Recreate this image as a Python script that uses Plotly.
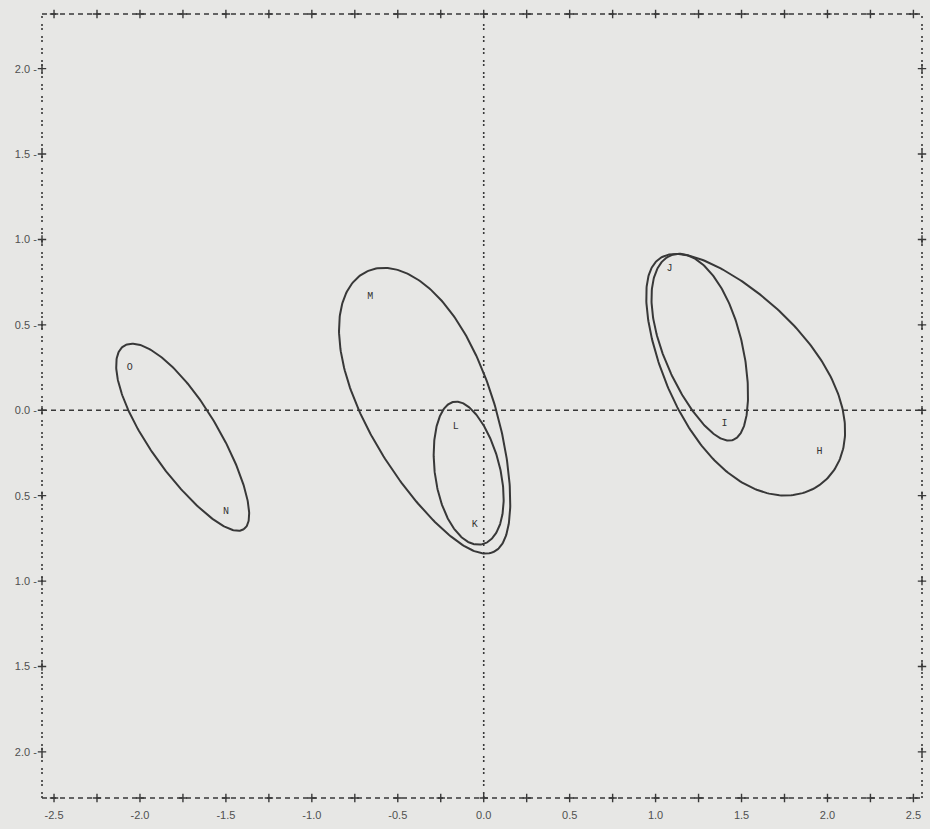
import numpy as np
import plotly.graph_objects as go

# ---- data ----
ellipse_names = ["O-N", "M", "L-K", "J-I", "H"]
ellipse_cx = [-1.745, -0.310, -0.093, 1.273, 1.488]
ellipse_cy = [-0.160, -0.008, -0.368, 0.368, 0.225]
ellipse_a = [0.64, 0.90, 0.425, 0.57, 0.81]
ellipse_b = [0.20, 0.37, 0.19, 0.23, 0.42]
ellipse_angle = [-57.0, -66.0, -79.0, -72.0, -55.0]
ellipse_egg = [-0.10, -0.20, 0.08, -0.15, 0.22]   # >0: fatter toward lower-right end

label_text = ["O", "N", "M", "L", "K", "J", "I", "H"]
label_x = [-2.06, -1.50, -0.66, -0.163, -0.052, 1.081, 1.401, 1.953]
label_y = [0.25, -0.59, 0.665, -0.094, -0.67, 0.83, -0.08, -0.24]

x_tick_vals = [-2.5, -2.0, -1.5, -1.0, -0.5, 0.0, 0.5, 1.0, 1.5, 2.0, 2.5]
x_tick_text = ["-2.5", "-2.0", "-1.5", "-1.0", "-0.5", "0.0", "0.5", "1.0", "1.5", "2.0", "2.5"]
y_tick_vals = [2.0, 1.5, 1.0, 0.5, 0.0, -0.5, -1.0, -1.5, -2.0]
y_tick_text = ["2.0 -", "1.5 -", "1.0 -", "0.5 -", "0.0 -", "0.5 -", "1.0 -", "1.5 -", "2.0 -"]
x_minor = [-2.5, -2.25, -2.0, -1.75, -1.5, -1.25, -1.0, -0.75, -0.5, -0.25, 0.0,
           0.25, 0.5, 0.75, 1.0, 1.25, 1.5, 1.75, 2.0, 2.25, 2.5]

X_RANGE = [-2.57, 2.55]
Y_RANGE = [-2.27, 2.32]

INK = "#383838"
BG = "#e7e7e5"

fig = go.Figure()

t = np.linspace(0, 2 * np.pi, 300)
for name, cx, cy, a, b, ang, k in zip(ellipse_names, ellipse_cx, ellipse_cy,
                                      ellipse_a, ellipse_b, ellipse_angle, ellipse_egg):
    th = np.deg2rad(ang)
    u = a * np.cos(t)
    v = b * np.sin(t) * (1 + k * np.cos(t))
    ex = cx + u * np.cos(th) - v * np.sin(th)
    ey = cy + u * np.sin(th) + v * np.cos(th)
    fig.add_trace(go.Scatter(x=ex, y=ey, mode="lines", name=name,
                             line=dict(color=INK, width=2), hoverinfo="skip"))

fig.add_trace(go.Scatter(x=label_x, y=label_y, mode="text", text=label_text,
                         textfont=dict(family="Liberation Mono", size=10, color="#333333")))

cross = dict(symbol="cross-thin", size=6, line=dict(color=INK, width=1.4))
fig.add_trace(go.Scatter(x=x_minor, y=[Y_RANGE[1]] * len(x_minor), mode="markers",
                         marker=cross, cliponaxis=False))
fig.add_trace(go.Scatter(x=x_minor, y=[Y_RANGE[0]] * len(x_minor), mode="markers",
                         marker=cross, cliponaxis=False))
fig.add_trace(go.Scatter(x=[X_RANGE[0]] * len(y_tick_vals), y=y_tick_vals, mode="markers",
                         marker=cross, cliponaxis=False))
fig.add_trace(go.Scatter(x=[X_RANGE[1]] * len(y_tick_vals), y=y_tick_vals, mode="markers",
                         marker=cross, cliponaxis=False))

dashed = dict(color=INK, width=1.3, dash="5px,4px")
dotted = dict(color=INK, width=1.6, dash="2px,2px,2px,6px")
shapes = [
    dict(type="line", xref="paper", yref="paper", x0=0, x1=1, y0=1, y1=1, line=dashed),
    dict(type="line", xref="paper", yref="paper", x0=0, x1=1, y0=0, y1=0, line=dashed),
    dict(type="line", xref="paper", yref="paper", x0=0, x1=0, y0=0, y1=1, line=dotted),
    dict(type="line", xref="paper", yref="paper", x0=1, x1=1, y0=0, y1=1, line=dotted),
    dict(type="line", xref="paper", yref="y", x0=0, x1=1, y0=0, y1=0, line=dashed),
    dict(type="line", xref="x", yref="paper", x0=0, x1=0, y0=0, y1=1, line=dotted),
]

fig.update_layout(
    width=930, height=829,
    margin=dict(l=42, r=8, t=14, b=29),
    paper_bgcolor=BG, plot_bgcolor=BG,
    showlegend=False,
    shapes=shapes,
    font=dict(family="Liberation Sans", size=11, color="#505050"),
    xaxis=dict(range=X_RANGE, showgrid=False, zeroline=False, showline=False,
               tickvals=x_tick_vals, ticktext=x_tick_text,
               ticks="outside", ticklen=7, tickcolor="rgba(0,0,0,0)"),
    yaxis=dict(range=Y_RANGE, showgrid=False, zeroline=False, showline=False,
               tickvals=y_tick_vals, ticktext=y_tick_text,
               ticks="outside", ticklen=2, tickcolor="rgba(0,0,0,0)"),
)

fig.write_html("out.html",
               config={"displayModeBar": False},
               post_script="document.body.style.margin='0px';"
                           "document.body.style.background='" + BG + "';")
